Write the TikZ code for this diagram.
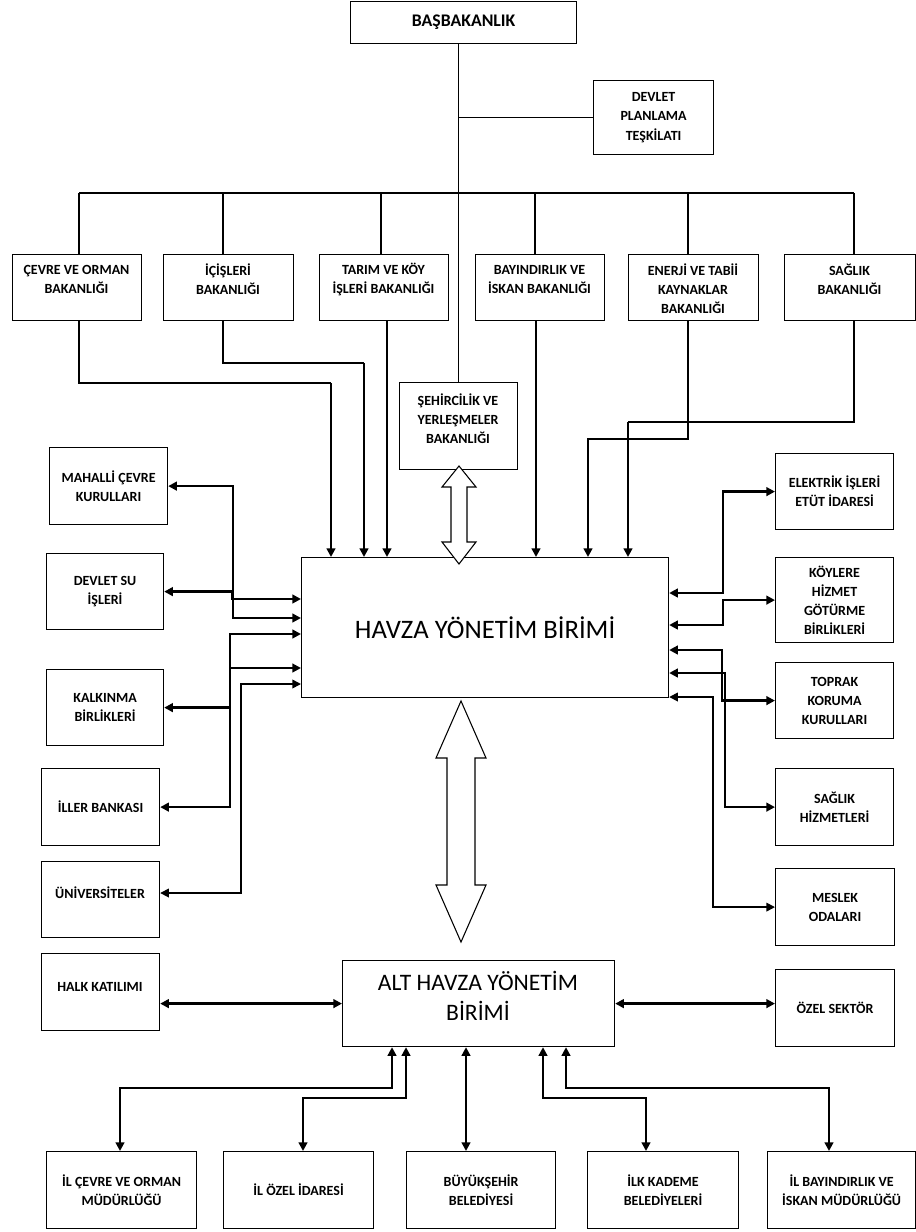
\documentclass[tikz,border=0pt]{standalone}
\usepackage{fontspec}
\setmainfont{Carlito}
\usetikzlibrary{arrows.meta,calc}
\newcommand\boxfnt{\fontsize{10.5}{14.3}\selectfont\bfseries}
\newcommand\basfnt{\fontsize{13.3}{15}\selectfont\bfseries}
\newcommand\havfnt{\fontsize{20}{23}\selectfont}
\newcommand\altfnt{\fontsize{17.7}{22.5}\selectfont}
\tikzset{
  box/.style={draw,line width=0.9pt,inner sep=1pt,align=center,font=\boxfnt,anchor=north west},
  sz/.style 2 args={minimum width=#1*0.75pt,minimum height=#2*0.75pt},
  txt/.style={align=center,font=\boxfnt,inner sep=0pt},
  tree/.style={line width=0.9pt},
  conn/.style={line width=2pt,-{Triangle[length=6.5pt,width=6.5pt]}},
  dconn/.style={line width=2pt,{Triangle[length=6.5pt,width=6.5pt]}-{Triangle[length=6.5pt,width=6.5pt]}},
  dthin/.style={line width=1.2pt,{Triangle[length=6.5pt,width=6.5pt]}-{Triangle[length=6.5pt,width=6.5pt]}},
  hollow/.style={line width=0.8pt,fill=white,line join=miter}}
\begin{document}
\begin{tikzpicture}[x=0.75pt,y=-0.75pt]
\fill[white] (0,0) rectangle (916,1232);
\useasboundingbox (0,0) rectangle (916,1232);

% top
\node[box,sz={226}{42},font=\basfnt] (bas) at (350,1) {BAŞBAKANLIK};
\node[box,sz={120}{74}] (dpt) at (593,80) {DEVLET\\PLANLAMA\\TEŞKİLATI};

% ministries
\node[box,sz={129}{66}] (cevre) at (12,254) {};
\node[txt] (cevreT) at (76.5,279.5) {ÇEVRE VE ORMAN\\BAKANLIĞI};
\node[box,sz={130}{66}] (icis) at (163,254) {};
\node[txt] (icisT) at (228,279.5) {İÇİŞLERİ\\BAKANLIĞI};
\node[box,sz={129}{66}] (tarim) at (319,254) {};
\node[txt] (tarimT) at (383.5,279.5) {TARIM VE KÖY\\İŞLERİ BAKANLIĞI};
\node[box,sz={129}{66}] (bayin) at (475,254) {};
\node[txt] (bayinT) at (539.5,279.5) {BAYINDIRLIK VE\\İSKAN BAKANLIĞI};
\node[box,sz={130}{66}] (enerji) at (628,254) {};
\node[txt] (enerjiT) at (693,289) {ENERJİ VE TABİİ\\KAYNAKLAR\\BAKANLIĞI};
\node[box,sz={131}{66}] (saglik) at (784,254) {};
\node[txt] (saglikT) at (849.5,279.5) {SAĞLIK\\BAKANLIĞI};
\node[box,sz={118}{87}] (seh) at (399,382) {};
\node[txt] (sehT) at (458,419) {ŞEHİRCİLİK VE\\YERLEŞMELER\\BAKANLIĞI};

% left
\node[box,sz={118}{77}] (mah) at (49,447) {MAHALLİ ÇEVRE\\KURULLARI};
\node[box,sz={117}{76}] (dsu) at (46,553) {DEVLET SU\\İŞLERİ};
\node[box,sz={117}{76}] (kalk) at (46,669) {KALKINMA\\BİRLİKLERİ};
\node[box,sz={118}{77}] (iller) at (41,768) {İLLER BANKASI};
\node[box,sz={118}{76}] (univ) at (41,861) {};
\node[txt] (univT) at (100,893) {ÜNİVERSİTELER};
\node[box,sz={118}{77}] (halk) at (41,953) {};
\node[txt] (halkT) at (100,987) {HALK KATILIMI};

% right
\node[box,sz={118}{76}] (elek) at (775,453) {ELEKTRİK İŞLERİ\\ETÜT İDARESİ};
\node[box,sz={118}{85}] (koy) at (775,557) {KÖYLERE\\HİZMET\\GÖTÜRME\\BİRLİKLERİ};
\node[box,sz={118}{76}] (toprak) at (775,662) {TOPRAK\\KORUMA\\KURULLARI};
\node[box,sz={118}{77}] (sagh) at (775,768) {SAĞLIK\\HİZMETLERİ};
\node[box,sz={119}{77}] (meslek) at (775,868) {MESLEK\\ODALARI};
\node[box,sz={119}{77}] (ozel) at (775,969) {ÖZEL SEKTÖR};

% centre
\node[box,sz={367}{140},font=\havfnt] (havza) at (301,557) {HAVZA YÖNETİM BİRİMİ};
\node[box,sz={272}{86}] (alt) at (342,960) {};
\node[txt,font=\altfnt] (altT) at (478,996) {ALT HAVZA YÖNETİM\\BİRİMİ};

% bottom
\node[box,sz={150}{77}] (ilcevre) at (46,1151) {İL ÇEVRE VE ORMAN\\MÜDÜRLÜĞÜ};
\node[box,sz={150}{77}] (ilozel) at (223,1151) {İL ÖZEL İDARESİ};
\node[box,sz={149}{77}] (buyuk) at (406,1151) {BÜYÜKŞEHİR\\BELEDİYESİ};
\node[box,sz={151}{77}] (ilk) at (587,1151) {İLK KADEME\\BELEDİYELERİ};
\node[box,sz={148}{77}] (ilbay) at (767,1151) {İL BAYINDIRLIK VE\\İSKAN MÜDÜRLÜĞÜ};

% tree
\draw[tree] (bas.south -| seh.north) -- (seh.north);
\draw[tree] (dpt.west -| seh.north) -- (dpt.west);
\coordinate (bL) at (79,193);
\coordinate (bI) at (223,193);
\coordinate (bT) at (381,193);
\coordinate (bB) at (535,193);
\coordinate (bE) at (688,193);
\coordinate (bS) at (854,193);
\draw[tree] (bL) -- (bS);
\draw[tree] (bL) -- (bL |- cevre.north);
\draw[tree] (bI) -- (bI |- icis.north);
\draw[tree] (bT) -- (bT |- tarim.north);
\draw[tree] (bB) -- (bB |- bayin.north);
\draw[tree] (bE) -- (bE |- enerji.north);
\draw[tree] (bS) -- (bS |- saglik.north);

% ministries to havza
\coordinate (c1) at (331,383);
\draw[tree] (bL |- cevre.south) |- (c1);
\draw[conn] (c1) -- (c1 |- havza.north);
\coordinate (i1) at (364,363);
\draw[tree] (bI |- icis.south) |- (i1);
\draw[conn] (i1) -- (i1 |- havza.north);
\coordinate (tB) at (387,330);
\draw[conn] (tB |- tarim.south) -- (tB |- havza.north);
\coordinate (yB) at (536,330);
\draw[conn] (yB |- bayin.south) -- (yB |- havza.north);
\coordinate (eB) at (688,439);
\coordinate (e2) at (588,439);
\draw[conn] (eB |- enerji.south) -- (eB) -- (e2) -- (e2 |- havza.north);
\coordinate (sB) at (854,422);
\coordinate (s2) at (628,422);
\draw[tree] (sB |- saglik.south) -- (sB) -- (s2);
\draw[conn] (s2) -- (s2 |- havza.north);

% left connectors
\coordinate (m1) at (233,618);
\draw[dconn] (mah.east) -| (m1) -- (m1 -| havza.west);
\coordinate (d1) at (232,599);
\draw[dconn] (dsu.east) -| (d1) -- (d1 -| havza.west);
\coordinate (l1) at (230,634);
\draw[dconn] (iller.east) -| (l1) -- (l1 -| havza.west);
\coordinate (k1) at (230,668);
\draw[dconn] (kalk.east) -| (k1) -- (k1 -| havza.west);
\coordinate (u1) at (241,684);
\draw[dthin] (univT.east -| univ.east) -| (u1) -- (u1 -| havza.west);

% right connectors
\coordinate (r1) at (723,593);
\draw[dconn] (elek.west) -| (r1) -- (r1 -| havza.east);
\coordinate (r2) at (723,625);
\draw[dconn] (koy.west) -| (r2) -- (r2 -| havza.east);
\coordinate (r3) at (722,650);
\draw[dconn] (toprak.west) -| (r3) -- (r3 -| havza.east);
\coordinate (r4) at (725,673);
\draw[dconn] (sagh.west) -| (r4) -- (r4 -| havza.east);
\coordinate (r5) at (713,697);
\draw[dthin] (meslek.west) -| (r5) -- (r5 -| havza.east);

% alt havza
\draw[dconn] (halk.east |- alt.west) -- (alt.west);
\draw[dconn] (alt.east) -- (alt.east -| ozel.west);
\coordinate (q1) at (392,1088); \coordinate (q1b) at (120,1088);
\draw[dconn] (q1 |- alt.south) -- (q1) -- (q1b) -- (q1b |- ilcevre.north);
\coordinate (q2) at (406,1098); \coordinate (q2b) at (303,1098);
\draw[dconn] (q2 |- alt.south) -- (q2) -- (q2b) -- (q2b |- ilozel.north);
\coordinate (q3) at (466,1100);
\draw[dconn] (q3 |- alt.south) -- (q3 |- buyuk.north);
\coordinate (q4) at (543,1098); \coordinate (q4b) at (646,1098);
\draw[dconn] (q4 |- alt.south) -- (q4) -- (q4b) -- (q4b |- ilk.north);
\coordinate (q5) at (566,1088); \coordinate (q5b) at (829,1088);
\draw[dconn] (q5 |- alt.south) -- (q5) -- (q5b) -- (q5b |- ilbay.north);

% hollow double arrows
\draw[hollow] (459,466) -- (476,487) -- (467,487) -- (467,542) -- (476,542) -- (459,564) -- (442,542) -- (451,542) -- (451,487) -- (442,487) -- cycle;
\draw[hollow] (461,701) -- (486,758) -- (475,758) -- (475,885) -- (486,885) -- (461,942) -- (436,885) -- (447,885) -- (447,758) -- (436,758) -- cycle;
\end{tikzpicture}
\end{document}
